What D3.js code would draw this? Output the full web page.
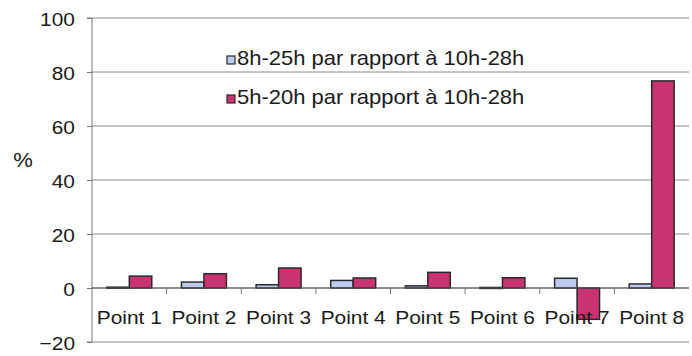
<!DOCTYPE html>
<html>
<head>
<meta charset="utf-8">
<script src="https://cdn.jsdelivr.net/npm/d3@7"></script>
<style>
  html, body { margin: 0; padding: 0; background: #fff; }
  svg { display: block; }
  text { font-family: Arial, "Liberation Sans", sans-serif; fill: #1a1a1a; }
</style>
</head>
<body>
<svg id="chart" width="692" height="356"></svg>
<script>
// Écarts (%) par point de mesure
const categories = ["Point 1", "Point 2", "Point 3", "Point 4", "Point 5", "Point 6", "Point 7", "Point 8"];
const seriesNames = ["8h-25h par rapport à 10h-28h", "5h-20h par rapport à 10h-28h"];
const series8h25h = [0.3, 2.2, 1.2, 2.8, 0.8, 0.2, 3.6, 1.5];
const series5h20h = [4.4, 5.3, 7.4, 3.7, 5.8, 3.8, -11.6, 76.7];
const yTicks = [-20, 0, 20, 40, 60, 80, 100];
const yLabel = "%";

const fills = ["#bccbee", "#c9336f"];
const stroke = "#2a2a2a";
const textStretch = 1.1; // slightly wide lettering

const svg = d3.select("#chart");
const plotLeft = 92, plotRight = 689, plotTop = 18, plotBottom = 342;

const y = d3.scaleLinear().domain([-20, 100]).range([plotBottom, plotTop]);
const x = d3.scaleBand().domain(categories).range([plotLeft, plotRight]).paddingInner(0).paddingOuter(0);
// two bars per group, gaps proportional to bar width
const xs = d3.scaleBand().domain([0, 1]).range([0, x.bandwidth()]).paddingInner(0).paddingOuter(0.66);

// places a stretched text at (px, py)
function wideText(sel, px, py) {
  return sel.attr("x", 0).attr("y", 0)
    .attr("transform", (d, i) => {
      const tx = typeof px === "function" ? px(d, i) : px;
      const ty = typeof py === "function" ? py(d, i) : py;
      return `translate(${tx},${ty}) scale(${textStretch},1)`;
    });
}

// gridlines
svg.append("g")
  .selectAll("line")
  .data(yTicks)
  .join("line")
  .attr("x1", plotLeft).attr("x2", plotRight)
  .attr("y1", d => y(d)).attr("y2", d => y(d))
  .attr("stroke", "#8c8c8c").attr("stroke-width", 1);

// y axis
const yAxis = d3.axisLeft(y).tickValues(yTicks).tickSize(5).tickFormat(d3.format("d"));
const gy = svg.append("g").attr("transform", `translate(${plotLeft},0)`).call(yAxis);
gy.select(".domain").attr("stroke", "#777").attr("d", `M-5,${plotTop}H0V${plotBottom}H-5`);
gy.selectAll(".tick line").attr("stroke", "#777");
gy.selectAll(".tick text")
  .attr("font-size", 19).attr("fill", "#1a1a1a")
  .attr("font-family", "Arial, 'Liberation Sans', sans-serif")
  .attr("dy", null)
  .call(s => wideText(s, -17, 7));

wideText(svg.append("text"), 23, 167)
  .attr("text-anchor", "middle")
  .attr("font-size", 20)
  .text(yLabel);

// bars
const data = categories.map((c, i) => ({ c, v: [series8h25h[i], series5h20h[i]] }));
const groups = svg.append("g").selectAll("g")
  .data(data)
  .join("g")
  .attr("transform", d => `translate(${x(d.c)},0)`);

groups.selectAll("rect")
  .data(d => d.v.map((v, k) => ({ v, k })))
  .join("rect")
  .attr("x", d => xs(d.k))
  .attr("width", xs.bandwidth())
  .attr("y", d => y(Math.max(0, d.v)))
  .attr("height", d => Math.max(1, Math.abs(y(d.v) - y(0))))
  .attr("fill", d => fills[d.k])
  .attr("stroke", stroke)
  .attr("stroke-width", 1.5);

// x axis at zero
const xAxis = d3.axisBottom(x).tickSize(0).tickFormat("");
const gx = svg.append("g").attr("transform", `translate(0,${y(0)})`).call(xAxis);
gx.select(".domain").attr("stroke", "#555").attr("d", `M${plotLeft},0H${plotRight}`);

// category boundary ticks
svg.append("g")
  .selectAll("line")
  .data(d3.range(1, categories.length))
  .join("line")
  .attr("x1", i => plotLeft + i * x.step()).attr("x2", i => plotLeft + i * x.step())
  .attr("y1", y(0)).attr("y2", y(0) + 6)
  .attr("stroke", "#777");

// category labels
svg.append("g")
  .selectAll("text")
  .data(categories)
  .join("text")
  .call(s => wideText(s, d => x(d) + x.bandwidth() / 2, 324))
  .attr("text-anchor", "middle")
  .attr("font-size", 19)
  .text(d => d);

// legend
const legend = svg.append("g").selectAll("g")
  .data(seriesNames)
  .join("g")
  .attr("transform", (d, i) => `translate(227,${56 + i * 39})`);
legend.append("rect")
  .attr("width", 8).attr("height", 8)
  .attr("fill", (d, i) => fills[i])
  .attr("stroke", stroke).attr("stroke-width", 1.2);
legend.append("text")
  .call(s => wideText(s, 10, 9))
  .attr("font-size", 20)
  .text(d => d);
</script>
</body>
</html>
